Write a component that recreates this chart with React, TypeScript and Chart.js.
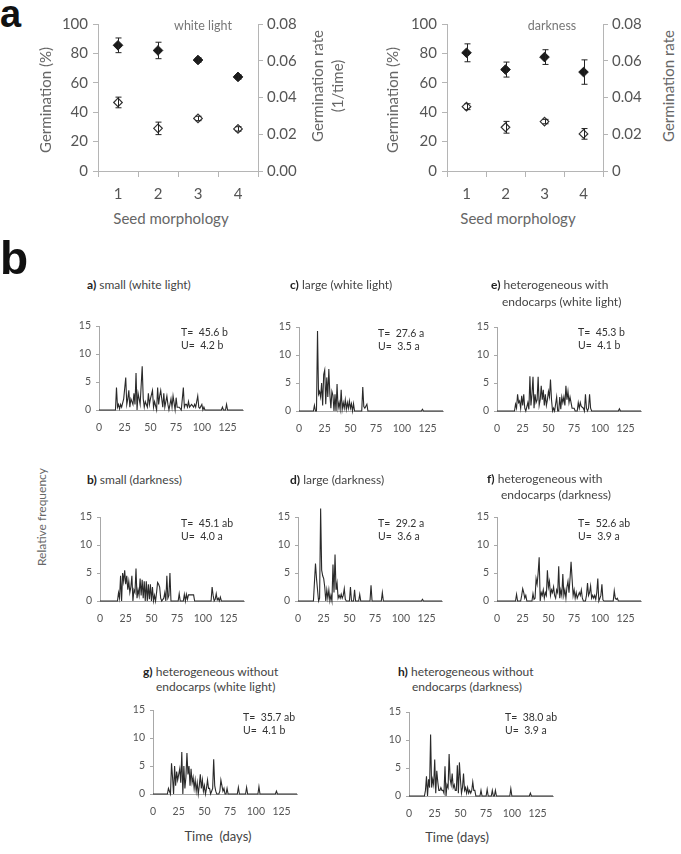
import React, { useEffect, useRef } from "react";
import { Chart, registerables } from "chart.js";
Chart.register(...registerables);

const FONT = "Lato, 'Open Sans', 'DejaVu Sans', sans-serif";

// ---------- Panel a data ----------
const morphCats = ["1", "2", "3", "4"];
const lightGerm = [85.5, 82, 75.5, 64];
const lightGermErr = [5, 5.6, 1.5, 1.5];
const lightRate = [0.0373, 0.0232, 0.0286, 0.0229];
const lightRateErr = [0.0029, 0.0034, 0.0012, 0.0012];
const darkGerm = [80.4, 69, 77.5, 67.3];
const darkGermErr = [6.1, 5.1, 5, 8.3];
const darkRate = [0.035, 0.0238, 0.0269, 0.0202];
const darkRateErr = [0.0016, 0.0032, 0.0012, 0.0029];
const rateTicksLight = ["0.00", "0.02", "0.04", "0.06", "0.08"];
const rateTicksDark = ["0", "0.02", "0.04", "0.06", "0.08"];

// ---------- Panel b data: [day, relative frequency] ----------
const smallLight: [number, number][] = [[0,0],[16,0],[17,4],[18,0.5],[19,1],[20,0.2],[21,1],[22,0.5],[24,2],[26,5.8],[27,1],[28,2],[29,3.5],[30,0.5],[31,2],[33,1],[34,3],[35,1],[36,6.6],[37,0],[38,3],[40,1],[42,7.8],[43,2],[44,0.5],[45,1.5],[47,0.5],[48,3],[49,1],[50,2],[52,3.5],[53,0.5],[54,1.5],[56,0],[57,4],[58,1],[59,2.5],[60,3.5],[62,0.5],[63,3],[64,0.5],[66,2.5],[67,1],[68,0],[70,2],[71,0.5],[72,2.5],[74,0],[75,2.2],[76,0.5],[78,0.5],[80,0],[82,4],[83,0.5],[84,1],[85,1],[86,0.5],[87,1.5],[88,0.5],[90,1],[92,0.5],[93,1],[94,0.5],[96,2.5],[97,0.5],[98,0.3],[100,1],[101,0],[102,0.5],[103,0],[119,0],[120,0.5],[121,0],[123,0],[124,1],[125,0],[140,0]];
const largeLight: [number, number][] = [[0,0],[14,0],[15,1],[16,0],[17,0],[18,14.3],[19,3],[20,3.5],[21,2.5],[22,5],[23,1],[24,6.5],[25,7.3],[26,1.2],[27,6],[28,2.5],[29,7.5],[30,3],[31,0.5],[32,3.5],[33,2.8],[34,0],[35,3],[36,0],[37,4.8],[38,0.5],[39,1.5],[40,0.3],[41,3.8],[42,0.3],[43,1.5],[44,0.5],[45,2],[46,0.3],[47,1.5],[48,0.5],[49,1.8],[50,0.5],[51,1.3],[52,0],[53,1.3],[54,0],[61,0],[62,4.3],[63,0.8],[64,0.5],[66,1.2],[67,0],[119,0],[120,0.3],[121,0],[140,0]];
const hetEndoLight: [number, number][] = [[0,0],[17,0],[18,1.2],[19,0.5],[20,3],[21,1.5],[22,1.8],[23,0.5],[24,2.7],[25,1],[26,3],[27,0.5],[28,0],[30,1.5],[31,0.3],[32,6.2],[33,1],[34,3],[35,6.1],[36,0.5],[37,3],[38,1.5],[39,2],[40,6.1],[41,1],[42,2],[43,4.5],[44,2],[45,3.8],[46,1],[47,3],[48,1],[49,2],[50,3.5],[51,2.5],[52,5.6],[53,2],[54,0],[55,0.5],[56,0],[58,2.5],[59,0],[60,0],[61,2.5],[62,0.3],[63,2.5],[64,1.5],[65,2.5],[66,1],[67,4.5],[68,2],[69,3.5],[70,1.5],[71,2.5],[72,1.5],[73,0.5],[75,0.5],[76,0],[78,0],[79,1.5],[80,0.5],[81,1.5],[82,0.8],[84,0.5],[85,0],[86,3],[87,0.5],[88,0],[89,0.5],[90,3],[91,0.5],[92,0],[118,0],[119,0.4],[120,0],[140,0]];
const smallDark: [number, number][] = [[0,0],[17,0],[18,1.5],[19,0.5],[20,4.5],[21,0],[22,5],[23,3.5],[24,5.5],[25,3],[26,4.5],[27,2],[28,3.5],[29,1.5],[30,2.5],[31,4.5],[32,0],[33,2],[34,1.5],[35,5.8],[36,0.5],[37,2],[38,1],[39,4],[40,1],[41,3.8],[42,0.5],[43,3.5],[44,0],[45,3.5],[46,0],[47,3],[48,0.3],[49,3],[50,0],[51,2.5],[52,0],[53,1],[54,0],[55,1.5],[56,3.3],[57,3],[58,2.5],[59,0.5],[60,0],[62,0.5],[63,1.5],[64,0],[65,4.5],[66,0.5],[67,1],[68,5],[69,0],[76,0],[77,1.3],[78,0],[81,0],[82,1.2],[83,0],[84,1.2],[85,0.3],[86,1.1],[91,1.1],[92,0],[108,0],[109,2.5],[110,1],[111,0],[112,0.3],[113,1.3],[114,0.2],[115,0.5],[116,0],[117,0.7],[118,0],[140,0]];
const largeDark: [number, number][] = [[0,0],[15,0],[17,6.7],[18,4],[20,0],[21,0.5],[22,16.5],[23,5.5],[24,4.5],[25,4],[26,2.5],[27,0],[28,2],[29,0.5],[30,2],[31,0],[32,1],[33,0],[34,6.5],[35,1.5],[36,8.3],[37,2],[38,3.2],[39,0.5],[40,1],[41,0.5],[42,1.2],[43,0.5],[44,1],[45,2.2],[46,0.3],[47,0],[50,0],[51,2.5],[52,0],[54,0],[55,2],[56,0],[59,0],[60,1.2],[61,0],[70,0],[71,2.8],[72,0],[81,0],[82,1.5],[83,0],[120,0],[121,0.3],[122,0],[140,0]];
const hetEndoDark: [number, number][] = [[0,0],[18,0],[19,1.2],[20,0],[23,0],[24,1],[25,2.2],[26,1.5],[27,0.5],[28,1],[29,0],[34,0],[35,1.3],[36,0.3],[37,0.5],[38,4],[39,3],[40,5],[41,7.8],[42,0],[43,1.5],[44,1],[45,2],[46,0.5],[47,1.5],[48,1],[49,5.5],[50,2.5],[51,3.5],[52,1],[53,2],[54,1.5],[55,2.5],[56,1],[57,0.5],[58,2],[59,1.5],[60,6.2],[61,0.5],[62,2],[63,1],[64,4.8],[65,1],[66,2],[67,0.5],[68,2.5],[69,3.5],[70,1.5],[71,4],[72,7],[73,4],[74,1],[75,2],[76,0.5],[77,1.5],[78,0.5],[79,1],[80,1.5],[81,1],[82,2],[83,0.5],[84,0],[86,0],[87,1],[88,3.2],[89,1],[90,1.5],[91,2.7],[92,0.5],[93,1],[94,0.5],[95,1],[96,0.3],[97,1.5],[98,4],[99,0],[100,0.5],[101,1],[102,3],[103,0.2],[104,0],[113,0],[114,1.8],[115,0.5],[116,0.3],[117,0.5],[118,0],[140,0]];
const hetNoEndoLight: [number, number][] = [[0,0],[14,0],[15,1],[16,0.5],[17,0],[18,5.5],[19,3],[20,0],[21,5],[22,1.5],[23,4],[24,2.5],[25,3.5],[26,4.5],[27,2],[28,7.5],[29,0],[30,5],[31,1],[32,3],[33,7.3],[34,3.5],[35,5],[36,1.5],[37,4.5],[38,2],[39,3],[40,1],[41,2.5],[42,0.5],[43,2],[44,0],[45,1.5],[46,3.5],[47,1],[48,2.5],[49,0.5],[50,1.5],[51,0],[52,1],[53,2.5],[54,1],[55,1],[56,0],[57,0.5],[58,1],[59,6.2],[60,1.5],[61,0.5],[62,0],[64,0],[65,0.5],[66,2.5],[67,1.5],[68,0.5],[69,1],[70,0],[71,0],[72,1],[73,0],[82,0],[83,1.2],[84,0],[90,0],[91,1.2],[92,0],[102,0],[103,1.3],[104,0],[119,0],[120,0.5],[121,0],[140,0]];
const hetNoEndoDark: [number, number][] = [[0,0],[15,0],[16,1],[17,3.5],[18,0],[19,3],[20,1.5],[21,11],[22,1.5],[23,3],[24,2],[25,6.5],[26,0.5],[27,4.5],[28,2.5],[29,1],[30,1],[31,1.5],[32,1],[33,1],[34,0.5],[35,5.3],[36,0],[37,2],[38,1.5],[39,7.5],[40,3],[41,2],[42,4],[43,1.5],[44,2],[45,1],[46,1],[47,5.5],[48,0.5],[49,6],[50,3],[51,0.5],[52,1.5],[53,4],[54,1],[55,1.5],[56,0.5],[57,1.5],[58,0.5],[59,1],[60,0.5],[61,1],[62,2.5],[63,1],[64,1],[65,0],[69,0],[70,1],[71,0],[75,0],[76,1.2],[77,0],[80,0],[81,1],[82,0],[83,0],[84,1],[85,0],[98,0],[99,1.3],[100,0],[117,0],[118,0.5],[119,0],[140,0]];

const dayTicksStep = 25;
const freqTicksStep = 5;

// ---------- helpers ----------
const errorBarPlugin = {
  id: "errbars",
  afterDatasetsDraw(chart: any) {
    const ctx = chart.ctx;
    chart.data.datasets.forEach((ds: any, i: number) => {
      const errs = ds.errors;
      if (!errs) return;
      const meta = chart.getDatasetMeta(i);
      const scale = chart.scales[ds.yAxisID];
      ctx.save();
      ctx.strokeStyle = "#222";
      ctx.lineWidth = 1;
      meta.data.forEach((pt: any, j: number) => {
        const v = ds.data[j];
        const e = errs[j];
        const x = Math.round(pt.x) + 0.5;
        const y1 = scale.getPixelForValue(v - e);
        const y2 = scale.getPixelForValue(v + e);
        ctx.beginPath();
        ctx.moveTo(x, y1);
        ctx.lineTo(x, y2);
        ctx.moveTo(x - 3, y1);
        ctx.lineTo(x + 3, y1);
        ctx.moveTo(x - 3, y2);
        ctx.lineTo(x + 3, y2);
        ctx.stroke();
      });
      ctx.restore();
    });
  },
};

function GermChart(props: {
  left: number; top: number; plotW: number;
  germ: number[]; germErr: number[]; rate: number[]; rateErr: number[]; rateLabels: string[];
}) {
  const ref = useRef<HTMLCanvasElement>(null);
  const yW = 48, y2W = 50, xH = 35, padT = 13, plotH = 148;
  const w = yW + props.plotW + y2W;
  const h = padT + plotH + xH;
  useEffect(() => {
    const font = { family: FONT, size: 15 };
    const axisCol = "#b5b5b5";
    const chart = new Chart(ref.current!, {
      type: "line",
      data: {
        labels: morphCats,
        datasets: [
          { data: props.germ, yAxisID: "y", showLine: false, pointStyle: "rectRot", pointRadius: 4.8, pointBackgroundColor: "#1a1a1a", pointBorderColor: "#1a1a1a", pointBorderWidth: 1, errors: props.germErr } as any,
          { data: props.rate, yAxisID: "y2", showLine: false, pointStyle: "rectRot", pointRadius: 4.3, pointBackgroundColor: "#fff", pointBorderColor: "#333", pointBorderWidth: 1.2, errors: props.rateErr } as any,
        ],
      },
      options: {
        animation: false, responsive: false, events: [],
        layout: { padding: { top: padT, left: 0, right: 0, bottom: 0 } },
        plugins: { legend: { display: false }, tooltip: { enabled: false } },
        scales: {
          x: { type: "category", offset: true, grid: { offset: true, drawOnChartArea: false, tickLength: 6, color: axisCol }, border: { color: axisCol }, ticks: { font, color: "#555", padding: 8, maxRotation: 0 }, afterFit: (s: any) => { s.height = xH; } } as any,
          y: { position: "left", min: 0, max: 100, ticks: { stepSize: 20, font, color: "#555", padding: 5 }, grid: { drawOnChartArea: false, tickLength: 5, color: axisCol }, border: { color: axisCol }, afterFit: (s: any) => { s.width = yW; } } as any,
          y2: { position: "right", min: 0, max: 0.08, ticks: { stepSize: 0.02, font, color: "#555", padding: 4, callback: (_v: any, i: number) => props.rateLabels[i] }, grid: { drawOnChartArea: false, tickLength: 5, color: axisCol }, border: { color: axisCol }, afterFit: (s: any) => { s.width = y2W; } } as any,
        },
      },
      plugins: [errorBarPlugin],
    });
    return () => chart.destroy();
  }, []);
  return <canvas ref={ref} width={w} height={h} style={{ position: "absolute", left: props.left - yW, top: props.top - padT, width: w, height: h }} />;
}

function FreqChart(props: { pts: [number, number][]; L: number; T: number }) {
  const ref = useRef<HTMLCanvasElement>(null);
  const yW = 28, xH = 28, padT = 12, padR = 8, plotW = 144, plotH = 84;
  const w = yW + plotW + padR;
  const h = padT + plotH + xH;
  useEffect(() => {
    const font = { family: FONT, size: 10.5 };
    const axisCol = "#a8a8a8";
    const chart = new Chart(ref.current!, {
      type: "line",
      data: {
        datasets: [
          { data: props.pts.map(([x, y]) => ({ x, y })), borderColor: "#2a2a2a", borderWidth: 1.1, pointRadius: 0, tension: 0, clip: false } as any,
        ],
      },
      options: {
        animation: false, responsive: false, events: [],
        layout: { padding: { top: padT, right: padR, left: 0, bottom: 0 } },
        plugins: { legend: { display: false }, tooltip: { enabled: false } },
        scales: {
          x: { type: "linear", min: 0, max: 140, ticks: { stepSize: dayTicksStep, includeBounds: false, font, color: "#555", padding: 11, maxRotation: 0, autoSkip: false }, grid: { display: true, drawOnChartArea: false, drawTicks: false, color: axisCol }, border: { color: axisCol }, afterFit: (s: any) => { s.height = xH; } } as any,
          y: { min: 0, max: 15, ticks: { stepSize: freqTicksStep, font, color: "#555", padding: 5 }, grid: { drawOnChartArea: false, tickLength: 3, color: axisCol }, border: { color: axisCol }, afterFit: (s: any) => { s.width = yW; } } as any,
        },
      },
    });
    return () => chart.destroy();
  }, []);
  return <canvas ref={ref} width={w} height={h} style={{ position: "absolute", left: props.L - yW, top: props.T - padT, width: w, height: h }} />;
}

function Txt(props: { x: number; y: number; children: any; size?: number; color?: string; weight?: number; align?: string; rotate?: boolean; family?: string; lh?: number; ta?: string }) {
  const tx = props.align === "center" ? "-50%" : props.align === "right" ? "-100%" : "0";
  return (
    <div style={{
      position: "absolute", left: props.x, top: props.y,
      transform: `translate(${props.rotate ? "-50%" : tx},-50%)${props.rotate ? " rotate(-90deg)" : ""}`,
      fontSize: props.size ?? 10, color: props.color ?? "#333", fontWeight: props.weight ?? 400,
      whiteSpace: "pre", lineHeight: props.lh ?? 1.2, fontFamily: props.family ?? FONT, textAlign: (props.ta as any) ?? "left",
    }}>{props.children}</div>
  );
}

const freqLayout = [
  { pts: smallLight, L: 99, T: 326, lines: [[87, 285, "a)", " small (white light)"]], ax: 181, ay: 332, t: "T=  45.6 b", u: "U=  4.2 b" },
  { pts: largeLight, L: 299, T: 327, lines: [[290, 285, "c)", " large (white light)"]], ax: 378, ay: 333, t: "T=  27.6 a", u: "U=  3.5 a" },
  { pts: hetEndoLight, L: 497, T: 327, lines: [[491, 285, "e)", " heterogeneous with"], [502, 302, "", "endocarps (white light)"]], ax: 578, ay: 332, t: "T=  45.3 b", u: "U=  4.1 b" },
  { pts: smallDark, L: 100, T: 517, lines: [[87, 480, "b)", " small (darkness)"]], ax: 181, ay: 523, t: "T=  45.1 ab", u: "U=  4.0 a" },
  { pts: largeDark, L: 298, T: 517, lines: [[290, 480, "d)", " large (darkness)"]], ax: 378, ay: 523, t: "T=  29.2 a", u: "U=  3.6 a" },
  { pts: hetEndoDark, L: 497, T: 517, lines: [[487, 479, "f)", " heterogeneous with"], [501, 495, "", "endocarps (darkness)"]], ax: 578, ay: 523, t: "T=  52.6 ab", u: "U=  3.9 a" },
  { pts: hetNoEndoLight, L: 153, T: 710, lines: [[143, 672, "g)", " heterogeneous without"], [156, 687, "", "endocarps (white light)"]], ax: 243, ay: 717, t: "T=  35.7 ab", u: "U=  4.1 b" },
  { pts: hetNoEndoDark, L: 409, T: 712, lines: [[398, 672, "h)", " heterogeneous without"], [412, 687, "", "endocarps (darkness)"]], ax: 505, ay: 717, t: "T=  38.0 ab", u: "U=  3.9 a" },
];

export default function App() {
  return (
    <div style={{ position: "absolute", left: 0, top: 0, width: 681, height: 854, overflow: "hidden", background: "#fff", fontFamily: FONT }}>
      {/* Panel a */}
      <Txt x={0} y={14} size={38} weight={700} color="#111" family="'Liberation Sans', Arial, sans-serif" lh={1}>a</Txt>
      <GermChart left={98} top={23} plotW={160} germ={lightGerm} germErr={lightGermErr} rate={lightRate} rateErr={lightRateErr} rateLabels={rateTicksLight} />
      <GermChart left={447} top={23} plotW={156} germ={darkGerm} germErr={darkGermErr} rate={darkRate} rateErr={darkRateErr} rateLabels={rateTicksDark} />
      <Txt x={203} y={25} size={12.5} color="#777" align="center">white light</Txt>
      <Txt x={552} y={25} size={12.5} color="#777" align="center">darkness</Txt>
      <Txt x={45} y={100} size={15} color="#666" rotate>Germination (%)</Txt>
      <Txt x={392} y={100} size={15} color="#666" rotate>Germination (%)</Txt>
      <Txt x={327} y={86} size={15} color="#666" rotate lh={1.3} ta="center">{"Germination rate\n(1/time)"}</Txt>
      <Txt x={678} y={86} size={15} color="#666" rotate lh={1.3} ta="center">{"Germination rate\n(1/time)"}</Txt>
      <Txt x={171} y={218} size={15} color="#666" align="center">Seed morphology</Txt>
      <Txt x={518} y={218} size={15} color="#666" align="center">Seed morphology</Txt>

      {/* Panel b */}
      <Txt x={0} y={258} size={46} weight={700} color="#111" family="'Liberation Sans', Arial, sans-serif" lh={1}>b</Txt>
      <Txt x={42} y={517} size={12} color="#666" rotate>Relative frequency</Txt>
      {freqLayout.map((p, i) => (
        <React.Fragment key={i}>
          <FreqChart pts={p.pts} L={p.L} T={p.T} />
          {p.lines.map((ln: any, j: number) => (
            <Txt key={j} x={ln[0]} y={ln[1]} size={12} color="#444"><b style={{ color: "#222" }}>{ln[2]}</b>{ln[3]}</Txt>
          ))}
          <Txt x={p.ax} y={p.ay} size={10.5} color="#333">{p.t}</Txt>
          <Txt x={p.ax} y={p.ay + 13} size={10.5} color="#333">{p.u}</Txt>
        </React.Fragment>
      ))}
      <Txt x={218} y={837} size={13} color="#444" align="center">{"Time  (days)"}</Txt>
      <Txt x={457} y={838} size={13} color="#444" align="center">Time (days)</Txt>
    </div>
  );
}
